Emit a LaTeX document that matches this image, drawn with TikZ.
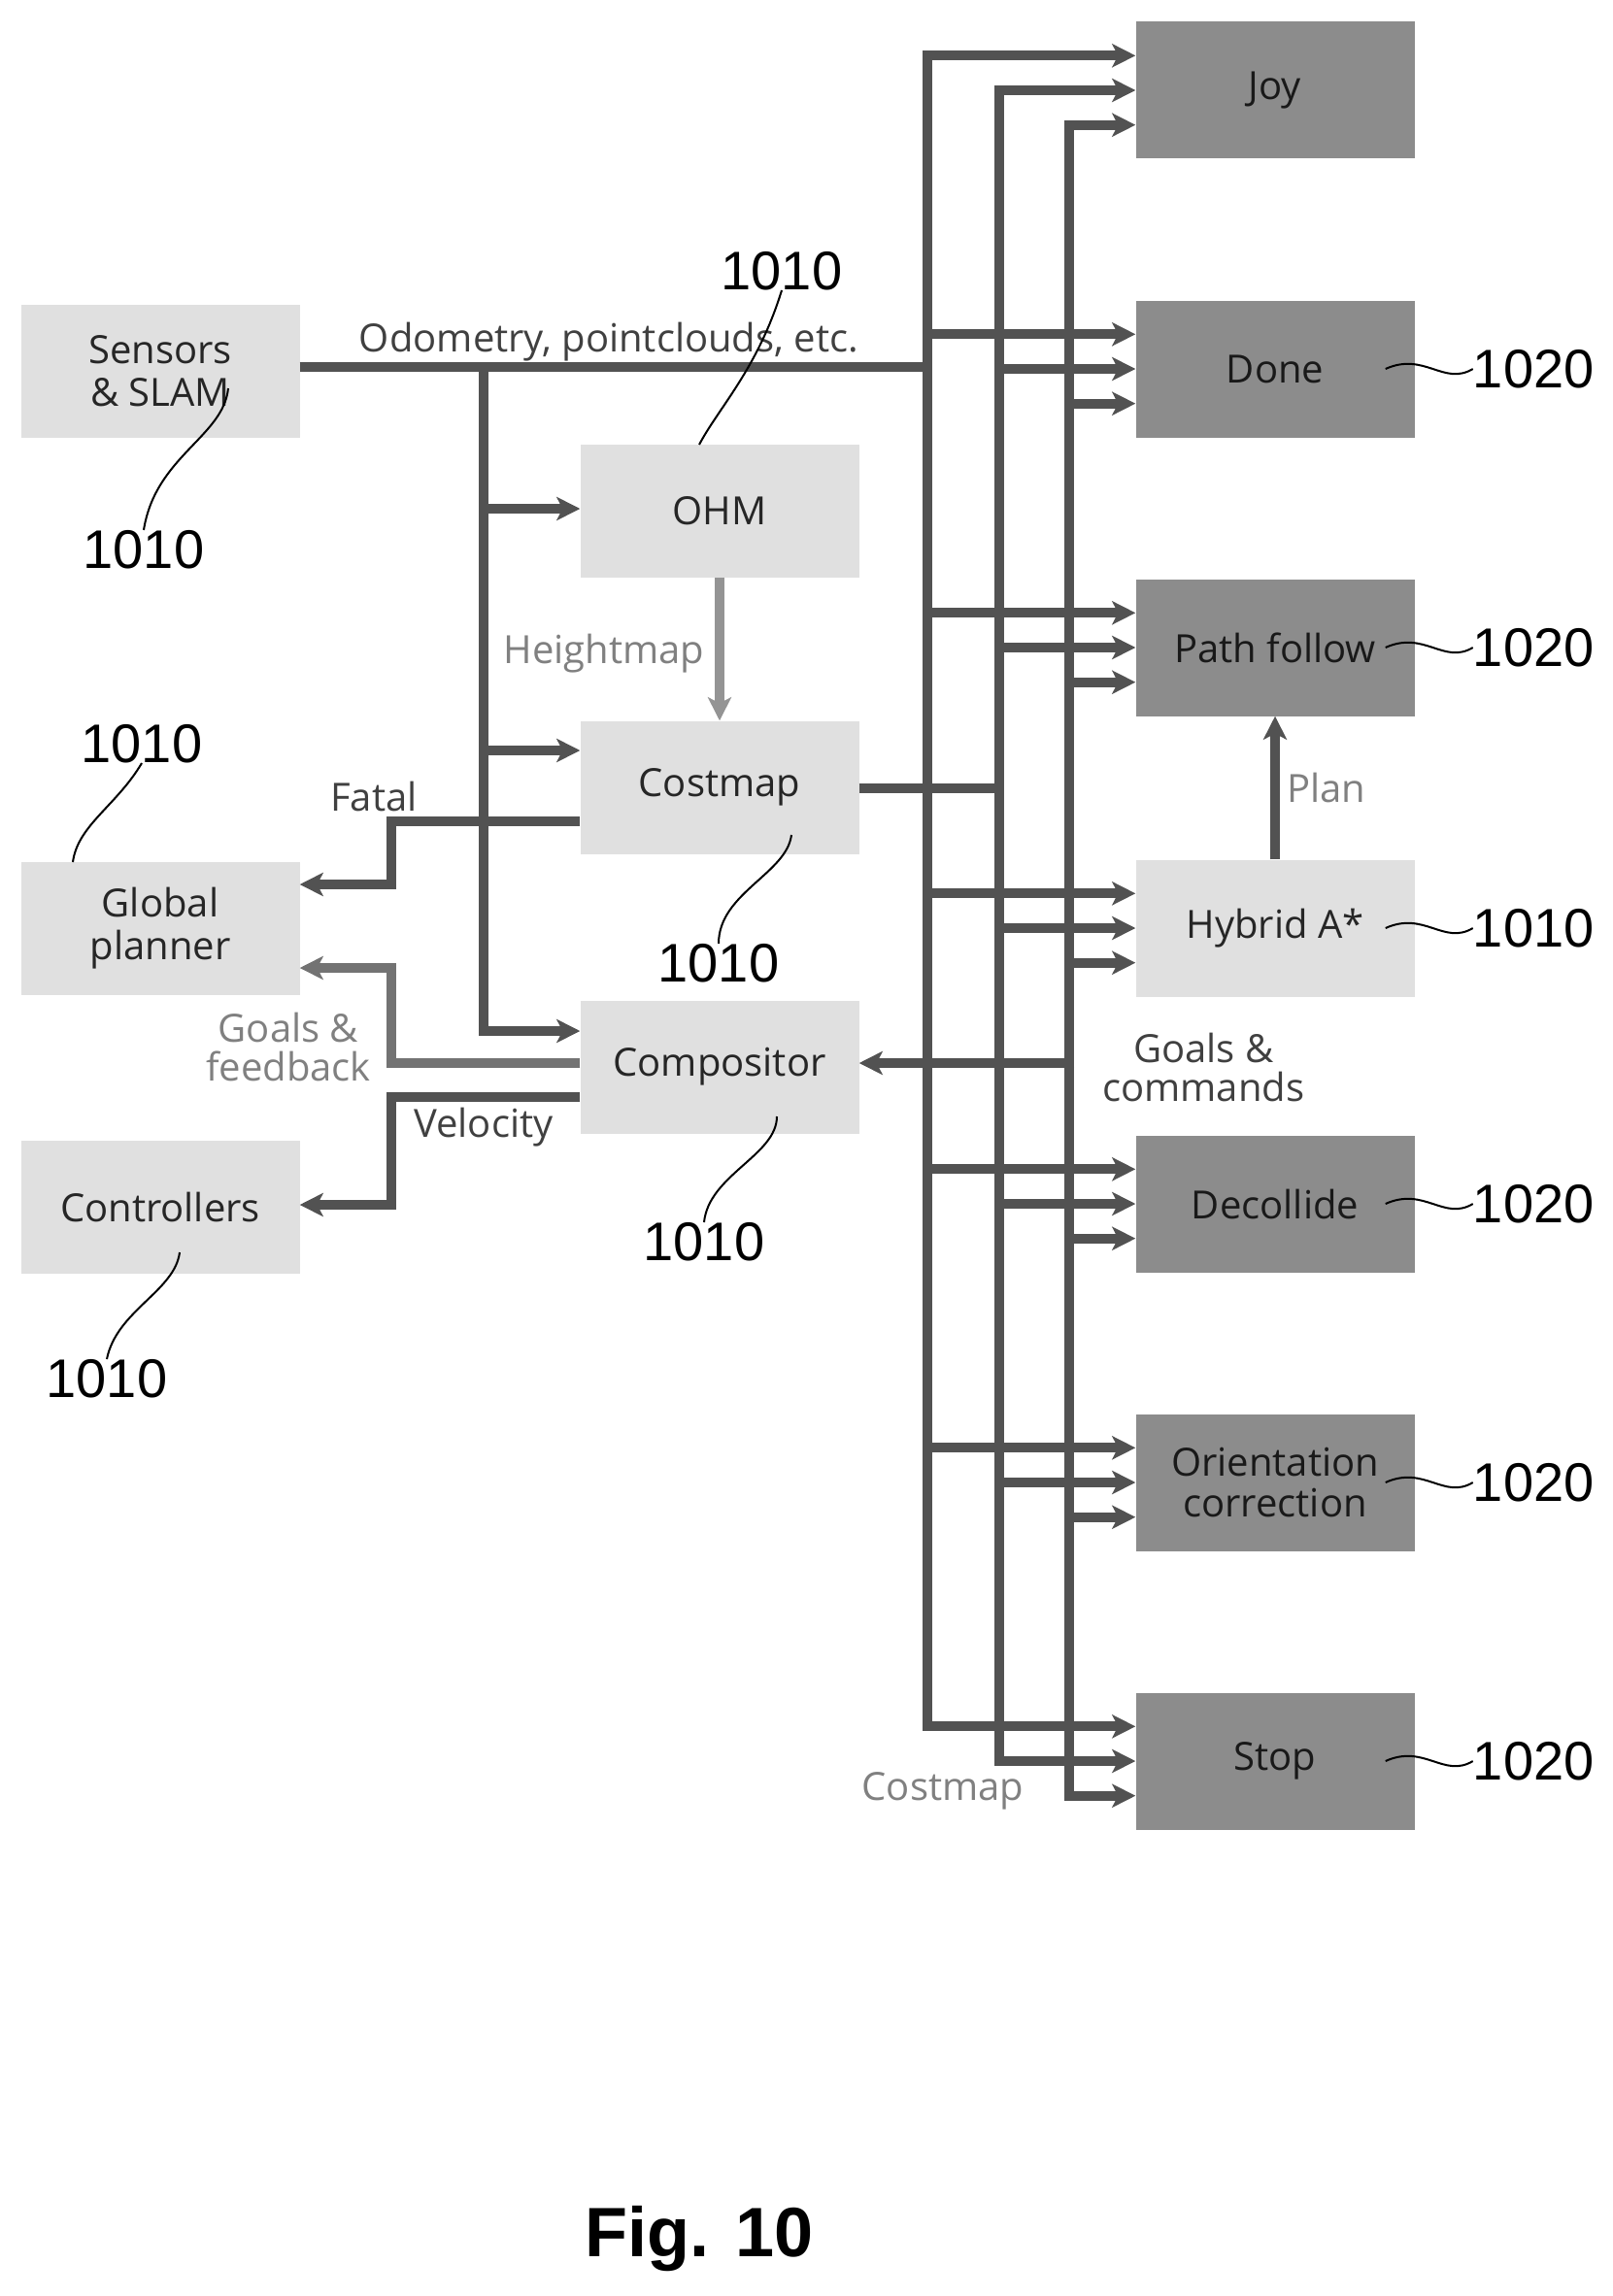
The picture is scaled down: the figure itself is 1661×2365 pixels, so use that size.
\documentclass[tikz,border=0pt]{standalone}
\usepackage{fontspec}
\setmainfont{Open Sans}
\newfontfamily\numfont{Liberation Sans}
\usetikzlibrary{calc,arrows.meta}
\begin{document}
\begin{tikzpicture}[x=1pt,y=-1pt,
  dbox/.style={draw=none,fill=black!45,minimum width=287pt,minimum height=141pt,inner sep=0pt,font=\fontsize{40}{46}\selectfont,text=black!90,align=center},
  lbox/.style={draw=none,fill=black!12,minimum width=287pt,minimum height=137pt,inner sep=0pt,font=\fontsize{40}{46}\selectfont,text=black!85,align=center},
  bus/.style={line width=10pt,draw=black!68},
  arr/.style={bus,-{Stealth[length=24pt,width=24pt,inset=6pt]}},
  larr/.style={line width=10pt,draw=black!42,-{Stealth[length=24pt,width=24pt,inset=6pt]}},
  lab/.style={font=\fontsize{40}{40}\selectfont,text=black!75,align=center,inner sep=0pt},
  glab/.style={lab,text=black!50},
  num/.style={font=\numfont\fontsize{56}{60}\selectfont,inner sep=0pt},
  lead/.style={line width=2pt,draw=black}]
\useasboundingbox (0,0) rectangle (1661,2365);
% right boxes
\node[dbox] (joy) at (1313,93) {Joy};
\node[dbox] (done) at (1313,380) {Done};
\node[dbox] (path) at (1313,667) {Path follow};
\node[lbox,minimum height=141pt] (hyb) at (1313,956) {Hybrid A*};
\node[dbox] (deco) at (1313,1240) {Decollide};
\node[dbox] (ori) at (1313,1527) {Orientation\\[-4pt]correction};
\node[dbox] (stop) at (1313,1814) {Stop};
% left boxes
\node[lbox] (sens) at (165,382) {Sensors\\[-2pt]\& SLAM};
\node[lbox] (ohm) at (741,526) {OHM};
\node[lbox] (cost) at (741,811) {Costmap};
\node[lbox] (comp) at (741,1099) {Compositor};
\node[lbox] (glob) at (165,956) {Global\\[-2pt]planner};
\node[lbox] (ctrl) at (165,1243) {Controllers};
% bus coordinates
\coordinate (b1) at (955,0);
\coordinate (b2) at (1029,0);
\coordinate (b3) at (1101,0);
% buses
\draw[bus] ($(b1 |- joy.north)+(0,35)$) -- ($(b1 |- stop.north)+(0,35)$);
\draw[bus] (b2 |- joy.west) -- (b2 |- stop.west);
\draw[bus] ($(b3 |- joy.south)+(0,-35)$) -- ($(b3 |- stop.south)+(0,-35)$);
\foreach \b in {joy,done,path,hyb,deco,ori,stop}{
  \draw[arr] ($(b1 |- \b.north)+(-5,35)$) -- ($(\b.north west)+(0,35)$);
  \draw[arr] ($(b2 |- \b.west)+(-5,0)$) -- (\b.west);
  \draw[arr] ($(b3 |- \b.south)+(-5,-35)$) -- ($(\b.south west)+(0,-35)$);
}
% odometry
\coordinate (t) at (498,0);
\draw[bus] (sens.east |- 0,378) -- (b1 |- 0,378);
\draw[bus] (t |- 0,373) -- (t |- 0,1062) -- ++(5,0);
\draw[arr] (t |- 0,524) -- (ohm.west |- 0,524);
\draw[arr] (t |- 0,773) -- (cost.west |- 0,773);
\draw[arr] (t |- 0,1062) -- (comp.west |- 0,1062);
\node[lab,anchor=south] (odo) at (627,372) {Odometry, pointclouds, etc.};
% heightmap
\draw[larr] (ohm.south) -- (cost.north);
\node[glab] (hm) at (622,673) {Heightmap};
% costmap to bus2
\draw[bus] (cost.east |- 0,812) -- ($(b2 |- 0,812)+(5,0)$);
% compositor from bus3
\draw[arr] ($(b3 |- 0,1095)+(5,0)$) -- (comp.east |- 0,1095);
\node[lab,anchor=west] (gc) at (1135,1099) {Goals \&\\commands};
% fatal
\coordinate (k) at (403,0);
\draw[arr] (cost.west |- 0,846) -- (k |- 0,846) -- (k |- 0,911) -- (glob.east |- 0,911);
\node[lab] (fat) at (385,820) {Fatal};
% goals & feedback
\draw[larr,draw=black!55] (comp.west |- 0,1095) -- (k |- 0,1095) -- (k |- 0,997) -- (glob.east |- 0,997);
\node[glab] (gf) at (297,1078) {Goals \&\\feedback};
% velocity
\draw[arr] (comp.west |- 0,1130) -- (k |- 0,1130) -- (k |- 0,1241) -- (ctrl.east |- 0,1241);
\node[lab] (vel) at (498,1161) {Velocity};
% plan
\draw[arr] (hyb.north) -- (path.south);
\node[glab,anchor=west] (plan) at (1325,811) {Plan};
% costmap label
\node[glab] (cml) at (971,1845) {Costmap};
% numbers
\node[num] (n1) at (805,279) {1010};
\draw[lead] (720,458) .. controls (740,420) and (780,380) .. (n1.south);
\node[num] (n2) at (148,566) {1010};
\draw[lead] (235,400) .. controls (230,450) and (160,470) .. (n2.north);
\node[num] (n3) at (146,766) {1010};
\draw[lead] (75,888) .. controls (80,850) and (120,830) .. (n3.south);
\node[num] (n4) at (740,992) {1010};
\draw[lead] (815,860) .. controls (810,900) and (740,920) .. (n4.north);
\node[num] (n5) at (725,1279) {1010};
\draw[lead] (800,1150) .. controls (800,1190) and (730,1210) .. (n5.north);
\node[num] (n6) at (110,1420) {1010};
\draw[lead] (185,1290) .. controls (180,1330) and (120,1350) .. (n6.north);
\foreach \b/\n in {done/1020,path/1020,hyb/1010,deco/1020,ori/1020,stop/1020}{
  \node[num,anchor=west] (r\b) at ($(\b.east)+(60,0)$) {\n};
  \draw[lead] ($(\b.east)+(-30,0)$) .. controls ($(\b.east)+(10,-18)$) and ($(\b.east)+(30,18)$) .. (r\b.west);
}
\node[font=\numfont\bfseries\fontsize{72}{76}\selectfont] (fig) at (720,2306) {Fig. 10};
\end{tikzpicture}
\end{document}
